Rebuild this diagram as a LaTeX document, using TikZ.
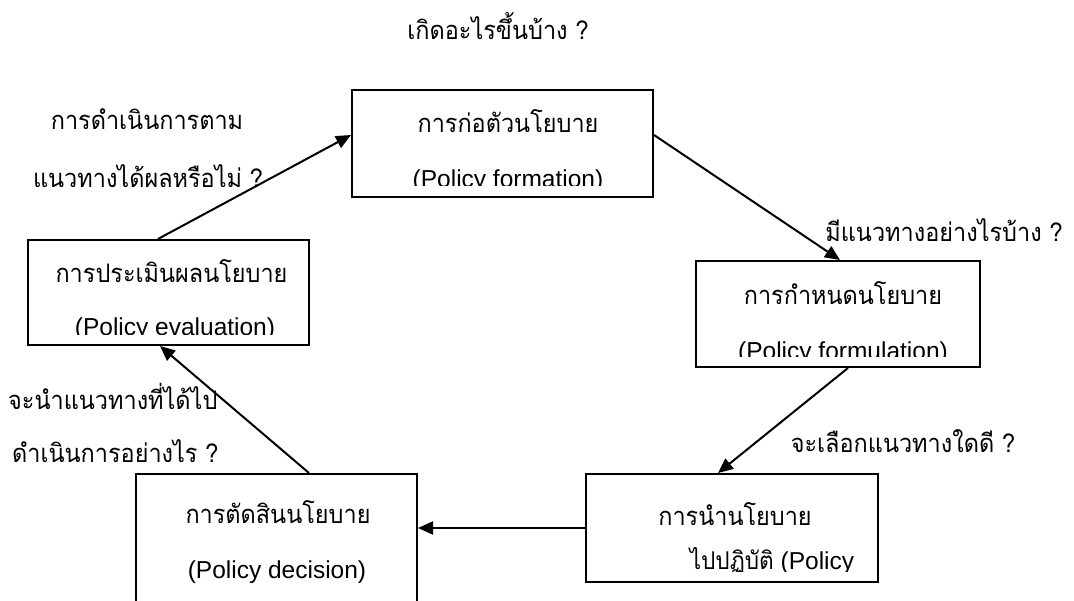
\documentclass[tikz,border=0pt]{standalone}
\usepackage{fontspec}
\setmainfont{Liberation Sans}
\newfontfamily\thaifont[Script=Thai,FakeStretch=0.92]{Loma}
\usetikzlibrary{arrows.meta}
\begin{document}
\begin{tikzpicture}[x=1pt,y=-1pt,
  box/.style={draw, line width=2pt, inner sep=0pt},
  th/.style={inner sep=0pt, anchor=base, font=\thaifont\fontsize{25.5}{30}\selectfont},
  thl/.style={th, anchor=base west},
  en/.style={inner sep=0pt, anchor=base, font=\fontsize{24.5}{30}\selectfont},
  arr/.style={line width=2pt, -{Triangle[length=15pt,width=13pt]}}]
\clip (0,0) rectangle (1074,601);
% boxes
\node[box, minimum width=301pt, minimum height=107pt] (form) at (502.5,143.5) {};
\node[box, minimum width=281pt, minimum height=105pt] (eval) at (168.5,292.5) {};
\node[box, minimum width=284pt, minimum height=106pt] (formu) at (838,314) {};
\node[box, minimum width=292pt, minimum height=108pt] (impl) at (732,528) {};
\node[box, minimum width=281pt, minimum height=180pt] (dec) at (276.5,564) {};
% box texts
\begin{scope}
\clip (form.north west) rectangle ([yshift=12pt]form.south east);
\node[th] (formA) at (508,133) {การก่อตัวนโยบาย};
\node[en] (formB) at (508,188) {(Policy formation)};
\end{scope}
\begin{scope}
\clip (eval.north west) rectangle ([yshift=11pt]eval.south east);
\node[th] (evalA) at (171.5,283) {การประเมินผลนโยบาย};
\node[en] (evalB) at (175,336) {(Policy evaluation)};
\end{scope}
\begin{scope}
\clip (formu.north west) rectangle ([yshift=11pt]formu.south east);
\node[th] (formuA) at (843,305) {การกำหนดนโยบาย};
\node[en] (formuB) at (843,360) {(Policy formulation)};
\end{scope}
\begin{scope}
\clip (impl.north west) rectangle ([yshift=12pt]impl.south east);
\node[th] (implA) at (735,525) {การนำนโยบาย};
\node[en] (implB) at (772,569) {{\thaifont ไปปฏิบัติ} (Policy};
\end{scope}
\node[th] (decA) at (278,523) {การตัดสินนโยบาย};
\node[en] (decB) at (277,578) {(Policy decision)};
% labels
\node[th] (q1) at (498,40) {เกิดอะไรขึ้นบ้าง ?};
\node[th] (q2) at (147,130) {การดำเนินการตาม};
\node[th] (q3) at (148,188) {แนวทางได้ผลหรือไม่ ?};
\node[th] (q4) at (944,242) {มีแนวทางอย่างไรบ้าง ?};
\node[th] (q5) at (903,453) {จะเลือกแนวทางใดดี ?};
\node[thl] (q6) at (8,410) {จะนำแนวทางที่ได้ไป};
\node[thl] (q7) at (12,463) {ดำเนินการอย่างไร ?};
% arrows
\draw[arr] ([xshift=-10.5pt]eval.north) -- ([yshift=8.5pt]form.west);
\draw[arr] ([yshift=8.5pt]form.east) -- ([xshift=2pt]formu.north);
\draw[arr] ([xshift=10pt]formu.south) -- ([xshift=-14pt]impl.north);
\draw[arr] (impl.west) -- (impl.west -| dec.east);
\draw[arr] ([xshift=32.5pt]dec.north) -- ([xshift=-8.5pt]eval.south);
\end{tikzpicture}
\end{document}
